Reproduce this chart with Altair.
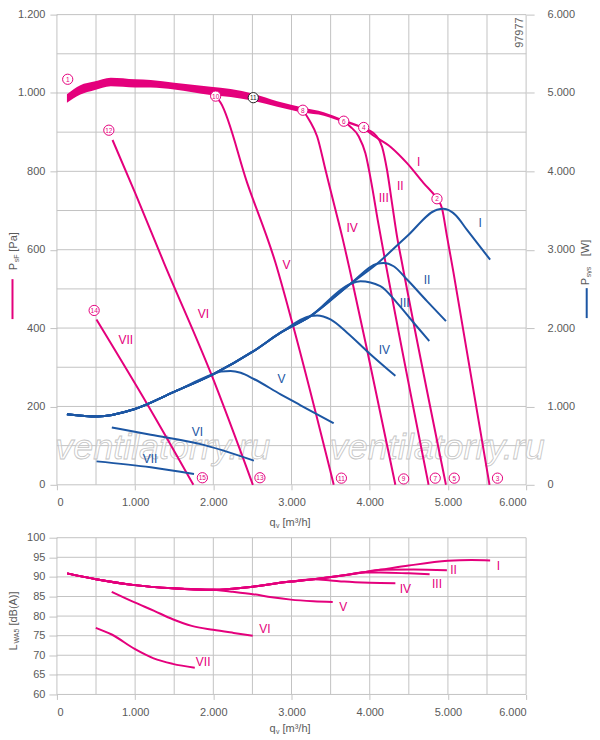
import altair as alt
import pandas as pd

MAGENTA = "#e4007c"
BLUE = "#1c56a3"
GRID = "#c3c3c3"
INK = "#5a5a5a"
FONT = "Liberation Sans"
DOT = "replace(format(datum.value, ','), ',', '.')"

# ---- pressure p_sF [Pa] over q_v [m3/h] ----
band_q = [128, 300, 476, 689, 1000, 1200, 1500, 1966, 2221, 2511, 2817, 3145, 3413, 3668, 3923]
band_hi = [997, 1020, 1029, 1039, 1035, 1033, 1026, 1016, 1010, 998, 979, 963, 951, 932, 914]
band_lo = [975, 996, 1007, 1017, 1014, 1014, 1009, 995, 990, 980, 965, 950, 942, 925, 909]

p1_q = [3923, 4009, 4264, 4477, 4689, 4860, 4924, 4988, 5072, 5532]
p1 = [912, 897, 863, 821, 770, 730, 706, 634, 541, 0]
p2_q = [3923, 4072, 4158, 4221, 4285, 4349, 4413, 4975]
p2 = [910, 893, 863, 804, 719, 634, 566, 0]
p3_q = [3668, 3753, 3860, 3945, 4030, 4102, 4179, 4753]
p3 = [928, 914, 889, 846, 761, 676, 592, 0]
p4_q = [3145, 3230, 3328, 3434, 3540, 3647, 3753, 3974, 4328]
p4 = [956, 930, 889, 804, 719, 634, 541, 337, 0]
p5_q = [2030, 2094, 2434, 2796, 3009, 3540]
p5 = [992, 975, 770, 566, 414, 0]
p6_q = [711, 1000, 1370, 1966, 2506]
p6 = [880, 745, 566, 286, 0]
p7_q = [505, 1178, 1745]
p7 = [422, 198, 0]

# ---- power P_sys [W] ----
w1_q = [128, 520, 987, 1497, 1995, 2519, 2860, 3242, 3753, 4094, 4477, 4860, 4944, 5100, 5242, 5540]
w1 = [901, 872, 965, 1186, 1410, 1708, 1941, 2153, 2564, 2822, 3171, 3510, 3522, 3440, 3255, 2873]
w2_q = [128, 520, 987, 1497, 1995, 2519, 2860, 3242, 3753, 4094, 4179, 4306, 4477, 4732, 4975]
w2 = [901, 872, 965, 1186, 1410, 1708, 1941, 2153, 2564, 2822, 2831, 2789, 2619, 2344, 2089]
w3_q = [128, 520, 987, 1497, 1995, 2519, 2860, 3242, 3753, 3881, 4136, 4349, 4562, 4762]
w3 = [901, 872, 965, 1186, 1410, 1708, 1941, 2153, 2564, 2598, 2535, 2322, 2068, 1835]
w4_q = [128, 520, 987, 1497, 1995, 2519, 2860, 3242, 3327, 3498, 3711, 3987, 4328]
w4 = [901, 872, 965, 1186, 1410, 1708, 1941, 2153, 2161, 2110, 1941, 1686, 1390]
w5_q = [128, 520, 987, 1497, 1995, 2100, 2221, 2350, 2519, 2860, 3115, 3540]
w5 = [901, 872, 965, 1186, 1410, 1445, 1453, 1430, 1350, 1155, 1015, 786]
w6_q = [702, 1200, 1838, 2519]
w6 = [732, 638, 519, 308]
w7_q = [507, 1200, 1753]
w7 = [299, 223, 138]

# ---- sound power L_WA5 [dB(A)] ----
s1_q = [131, 500, 994, 1481, 1997, 2250, 2504, 2750, 2991, 3283, 3673, 3900, 4136, 4500, 5000, 5300, 5540]
s1 = [90.9, 89.4, 87.9, 87.1, 86.7, 87.0, 87.5, 88.2, 88.8, 89.4, 90.4, 91.1, 91.8, 92.9, 94.1, 94.3, 94.2]
s2_q = [131, 500, 994, 1481, 1997, 2250, 2504, 2750, 2991, 3283, 3673, 3900, 4136, 4561, 4987]
s2 = [90.9, 89.4, 87.9, 87.1, 86.7, 87.0, 87.5, 88.2, 88.8, 89.4, 90.4, 91.1, 91.8, 91.9, 91.7]
s3_q = [131, 500, 994, 1481, 1997, 2250, 2504, 2750, 2991, 3283, 3673, 3900, 4136, 4500, 4766]
s3 = [90.9, 89.4, 87.9, 87.1, 86.7, 87.0, 87.5, 88.2, 88.8, 89.4, 90.4, 91.1, 91.1, 90.9, 90.7]
s4_q = [131, 500, 994, 1481, 1997, 2250, 2504, 2750, 2991, 3283, 3500, 3673, 4000, 4328]
s4 = [90.9, 89.4, 87.9, 87.1, 86.7, 87.0, 87.5, 88.2, 88.8, 89.4, 89.1, 88.8, 88.5, 88.4]
s5_q = [131, 500, 994, 1481, 1997, 2250, 2504, 2750, 2991, 3280, 3527]
s5 = [90.9, 89.4, 87.9, 87.1, 86.7, 86.2, 85.6, 84.8, 84.2, 83.8, 83.6]
s6_q = [701, 994, 1237, 1481, 1724, 1997, 2260, 2504]
s6 = [86.2, 83.5, 81.4, 79.2, 77.5, 76.5, 75.7, 75.0]
s7_q = [497, 701, 994, 1237, 1481, 1763]
s7 = [77.0, 75.3, 71.6, 69.2, 67.8, 66.8]

# ---- curve labels ----
roman = ["I", "II", "III", "IV", "V", "VI", "VII"]
lab_p_q = [4625, 4391, 4179, 3774, 2936, 1872, 881]
lab_p = [825, 763, 732, 655, 561, 436, 370]
lab_w_q = [5413, 4732, 4447, 4187, 2872, 1796, 1191]
lab_w = [3340, 2619, 2322, 1720, 1355, 668, 328]
lab_s_q = [5647, 5072, 4860, 4455, 3662, 2659, 1870]
lab_s = [92.8, 91.7, 88.3, 87.0, 82.4, 76.7, 68.2]

# numbered operating points (circled numbers)
pt_n = ["1", "2", "3", "4", "5", "6", "7", "8", "9", "10", "11", "11", "12", "13", "14", "15"]
pt_q = [138, 4860, 5634, 3923, 5081, 3668, 4838, 3145, 4434, 2030, 2511, 3638, 664, 2596, 476, 1860]
pt_p = [1035, 730, 17, 912, 17, 928, 17, 956, 15, 992, 988, 17, 905, 18, 445, 18]
pt_col = [MAGENTA] * 10 + ["#222222"] + [MAGENTA] * 5

x_ticks = list(range(0, 6001, 1000))
x_grid = list(range(0, 6001, 500))
p_grid = list(range(0, 1201, 100))
s_grid = list(range(60, 101, 5))


def frame(pairs, names):
    return pd.concat([pd.DataFrame({"q": q, "v": v, "c": n}) for (q, v), n in zip(pairs, names)])


p_df = frame([(p1_q, p1), (p2_q, p2), (p3_q, p3), (p4_q, p4), (p5_q, p5), (p6_q, p6), (p7_q, p7)], roman)
w_df = frame([(w1_q, w1), (w2_q, w2), (w3_q, w3), (w4_q, w4), (w5_q, w5), (w6_q, w6), (w7_q, w7)], roman)
s_df = frame([(s1_q, s1), (s2_q, s2), (s3_q, s3), (s4_q, s4), (s5_q, s5), (s6_q, s6), (s7_q, s7)], roman)
band_df = pd.DataFrame({"q": band_q, "v": band_hi, "v2": band_lo})
pt_df = pd.DataFrame({"q": pt_q, "v": pt_p, "n": pt_n, "col": pt_col})
one = pd.DataFrame({"k": [0]})

axis_style = dict(grid=False, domain=False, tickColor=GRID, labelColor=INK,
                  labelFont=FONT, labelFontSize=11, title=None)

X = alt.X("q:Q", scale=alt.Scale(domain=[0, 6000], nice=False),
          axis=alt.Axis(values=x_ticks, labelExpr=DOT, tickSize=5, labelPadding=7, **axis_style))
YP = alt.Y("v:Q", scale=alt.Scale(domain=[0, 1200], nice=False),
           axis=alt.Axis(values=list(range(0, 1201, 200)), labelExpr=DOT, tickSize=7,
                         labelPadding=5, **axis_style))
YW = alt.Y("v:Q", scale=alt.Scale(domain=[0, 6000], nice=False),
           axis=alt.Axis(orient="right", values=x_ticks, labelExpr=DOT, tickSize=8,
                         labelPadding=13, **axis_style))
YS = alt.Y("v:Q", scale=alt.Scale(domain=[60, 100], nice=False),
           axis=alt.Axis(values=s_grid, tickSize=8, labelPadding=4, **axis_style))


def txt(text, x, y, size=11, angle=0, color=INK, align="left", **kw):
    return alt.Chart(one).mark_text(text=text, x=x, y=y, fontSize=size, angle=angle, align=align,
                                    baseline="middle", color=color, font=FONT, **kw)


def xtitle(y):
    return [txt("q", 213, y), txt("v", 219.5, y + 3, size=7), txt("[m³/h]", 226, y)]


def grid(y_enc, y_vals):
    gx = alt.Chart(pd.DataFrame({"q": x_grid})).mark_rule(color=GRID, strokeWidth=1).encode(x=X)
    gy = alt.Chart(pd.DataFrame({"v": y_vals})).mark_rule(color=GRID, strokeWidth=1).encode(y=y_enc)
    return [gx, gy]


W, H1, H2 = 470, 471, 157

# ---------- top panel: pressure + power ----------
watermark = [
    txt("ventilatorry.ru", xx, 434, size=36, align="center", fontStyle="italic",
        fill="white", fillOpacity=0.45, stroke="#c4c4c4", strokeWidth=0.8)
    for xx in (106, 381)
]

band = alt.Chart(band_df).mark_area(color=MAGENTA, interpolate="monotone").encode(
    x=X, y=YP, y2="v2:Q")
p_lines = alt.Chart(p_df).mark_line(color=MAGENTA, strokeWidth=2, interpolate="monotone").encode(
    x=X, y=YP, detail="c:N")
p_labels = alt.Chart(pd.DataFrame({"q": lab_p_q, "v": lab_p, "t": roman})).mark_text(
    color=MAGENTA, fontSize=12, font=FONT).encode(x=X, y=YP, text="t:N")
pts = alt.Chart(pt_df).mark_circle(size=105, opacity=1, fill="white", strokeWidth=1).encode(
    x=X, y=YP, stroke=alt.Stroke("col:N", scale=None))
pt_text = alt.Chart(pt_df).mark_text(fontSize=6.5, font=FONT, dy=0.5).encode(
    x=X, y=YP, text="n:N", color=alt.Color("col:N", scale=None))

left_title = [
    txt("P", -43, 256, angle=270),
    txt("sF", -40, 248, size=7, angle=270),
    txt("[Pa]", -43, 237.5, angle=270),
    alt.Chart(one).mark_rule(color=MAGENTA, strokeWidth=2).encode(
        x=alt.value(-44.5), y=alt.value(265), y2=alt.value(305)),
]
stamp = txt("97977", 464, 18, angle=270, align="center", color="#666666")

pressure = alt.layer(*grid(YP, p_grid), *watermark, band, p_lines, pts, pt_text, p_labels,
                     *left_title, stamp, *xtitle(509))

w_lines = alt.Chart(w_df).mark_line(color=BLUE, strokeWidth=2, interpolate="monotone").encode(
    x=X, y=YW, detail="c:N")
w_labels = alt.Chart(pd.DataFrame({"q": lab_w_q, "v": lab_w, "t": roman})).mark_text(
    color=BLUE, fontSize=12, font=FONT).encode(x=X, y=YW, text="t:N")
right_title = [
    txt("P", 529.5, 271, angle=270),
    txt("sys", 532.5, 263, size=7, angle=270),
    txt("[W]", 529.5, 242, angle=270),
    alt.Chart(one).mark_rule(color=BLUE, strokeWidth=2).encode(
        x=alt.value(530.7), y=alt.value(274), y2=alt.value(304)),
]
power = alt.layer(w_lines, w_labels, *right_title)

top = alt.layer(pressure, power).resolve_scale(y="independent").properties(width=W, height=H1)

# ---------- bottom panel: sound power ----------
s_lines = alt.Chart(s_df).mark_line(color=MAGENTA, strokeWidth=2, interpolate="monotone").encode(
    x=X, y=YS, detail="c:N")
s_labels = alt.Chart(pd.DataFrame({"q": lab_s_q, "v": lab_s, "t": roman})).mark_text(
    color=MAGENTA, fontSize=12, font=FONT).encode(x=X, y=YS, text="t:N")
bottom_title = [
    txt("L", -43, 113, angle=270),
    txt("WA5", -40, 106, size=7, angle=270),
    txt("[dB(A)]", -43, 88, angle=270),
]
bottom = alt.layer(*grid(YS, s_grid), s_lines, s_labels, *bottom_title,
                   *xtitle(192)).properties(width=W, height=H2)

chart = alt.vconcat(top, bottom, spacing=3, padding=0).configure_view(strokeWidth=0)

chart.save("out.html", embed_options={"renderer": "svg", "actions": False})
